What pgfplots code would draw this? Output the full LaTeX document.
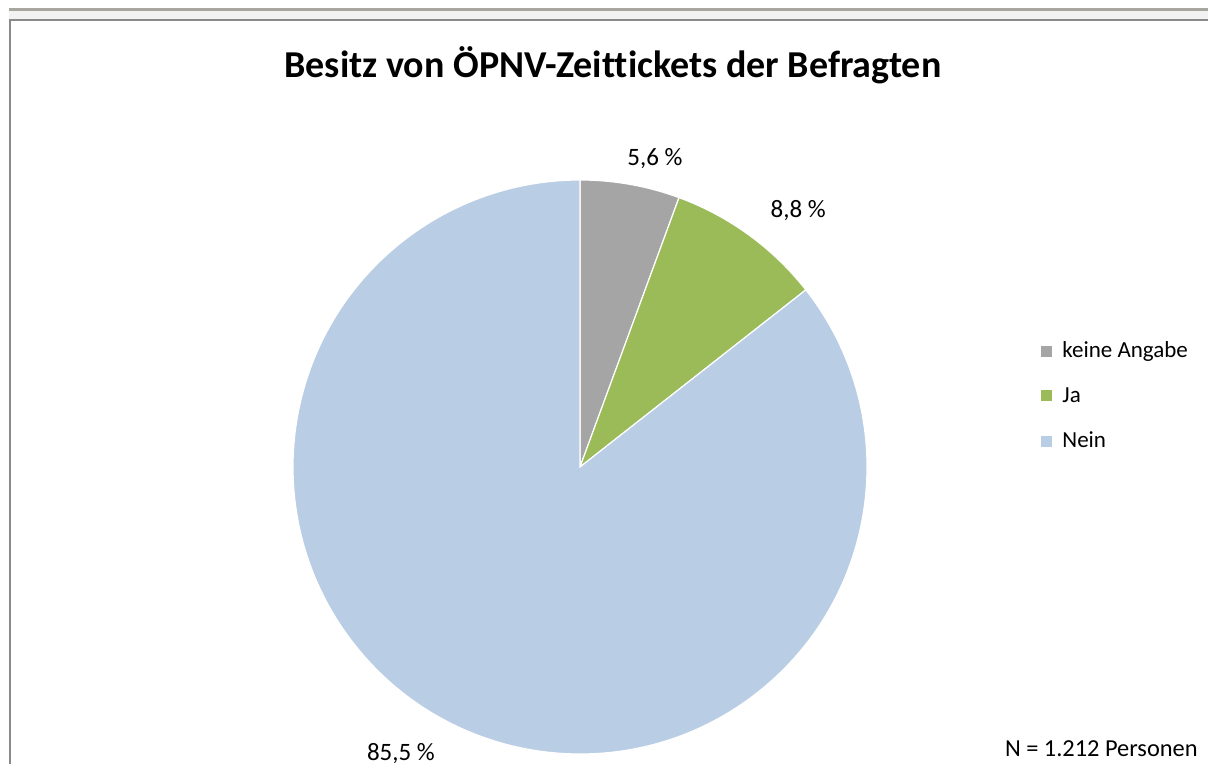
\documentclass[border=0pt]{standalone}
\usepackage{fontspec}
\setmainfont{Carlito}[Ligatures=NoCommon]
\usepackage{pgfplots}
\usepackage{pgfplotstable}
\pgfplotsset{compat=1.18}
\definecolor{kaGray}{HTML}{A5A5A5}
\definecolor{jaGreen}{HTML}{9BBB59}
\definecolor{neinBlue}{HTML}{B9CDE5}
\definecolor{bandGray}{HTML}{A6A59F}
\definecolor{frameGray}{HTML}{8A8A8A}

% share of respondents, clockwise from 12 o'clock
\pgfplotstableread[col sep=comma]{
label,value
keine Angabe,5.6
Ja,8.8
Nein,85.5
}\piedata

\begin{document}
\begin{tikzpicture}
\useasboundingbox (0,0) rectangle (604pt,382pt);
\clip (0,0) rectangle (604pt,382pt);
% frame remains of the cropped screenshot
\fill[bandGray] (4.5pt,376.5pt) rectangle (604pt,378pt);
\fill[black!5] (4.5pt,372.5pt) rectangle (604pt,376.5pt);
\fill[frameGray] (4.5pt,371.5pt) rectangle (604pt,372.5pt);
\fill[frameGray] (4.5pt,0pt) rectangle (5.5pt,372.5pt);

\pgfplotstablegetelem{0}{value}\of\piedata \let\vA\pgfplotsretval
\pgfplotstablegetelem{1}{value}\of\piedata \let\vB\pgfplotsretval
\pgfplotstablegetelem{2}{value}\of\piedata \let\vC\pgfplotsretval
\pgfmathsetmacro\tot{\vA+\vB+\vC}
\pgfmathsetmacro\aA{90-360*\vA/\tot}
\pgfmathsetmacro\aB{\aA-360*\vB/\tot}

\begin{axis}[anchor=origin, at={(290pt,148.5pt)},
  x=143.5pt, y=143.5pt, xmin=-1.1, xmax=1.1, ymin=-1.1, ymax=1.1,
  hide axis, clip=false]
\fill[kaGray, draw=white, line width=0.6pt] (axis cs:0,0) -- (axis cs:0,1)
  arc[start angle=90, end angle=\aA, radius=143.5pt] -- cycle;
\fill[jaGreen, draw=white, line width=0.6pt] (axis cs:0,0) -- (axis cs:{cos(\aA)},{sin(\aA)})
  arc[start angle=\aA, end angle=\aB, radius=143.5pt] -- cycle;
\fill[neinBlue, draw=white, line width=0.6pt] (axis cs:0,0) -- (axis cs:{cos(\aB)},{sin(\aB)})
  arc[start angle=\aB, end angle=-270, radius=143.5pt] -- cycle;
\node[font=\fontsize{12.5}{14}\selectfont, anchor=base] at (axis cs:0.261,1.052) {5,6 \%};
\node[font=\fontsize{12.5}{14}\selectfont, anchor=base] at (axis cs:0.760,0.868) {8,8 \%};
\node[font=\fontsize{12.5}{14}\selectfont, anchor=base] at (axis cs:-0.624,-1.022) {85,5 \%};
\end{axis}

% title
\node[font=\bfseries\fontsize{19}{23}\selectfont, anchor=base] at (306.5pt,343pt)
  {Besitz von ÖPNV-Zeittickets der Befragten};
% legend
\begin{scope}[every node/.style={font=\fontsize{11.5}{14}\selectfont, anchor=base west, inner sep=0pt}]
\fill[kaGray] (520.3pt,203.5pt) rectangle (525.8pt,209pt);
\node at (531pt,203pt) {keine Angabe};
\fill[jaGreen] (520.3pt,181.3pt) rectangle (525.8pt,186.8pt);
\node at (531pt,180.75pt) {Ja};
\fill[neinBlue] (520.3pt,158.5pt) rectangle (525.8pt,164pt);
\node at (531pt,158pt) {Nein};
\node[anchor=base east, font=\fontsize{12.2}{14}\selectfont] at (599pt,3.5pt) {N = 1.212 Personen};
\end{scope}
\end{tikzpicture}
\end{document}
